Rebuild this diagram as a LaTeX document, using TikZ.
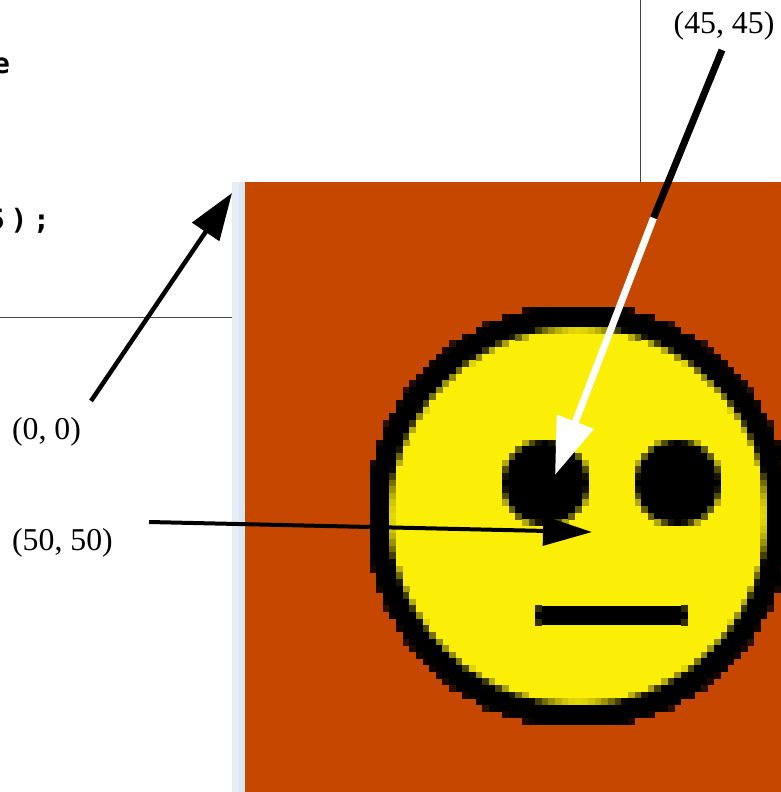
\documentclass[tikz,border=0pt]{standalone}
\usepackage{fontspec}
\setmainfont{Liberation Serif}
\newfontfamily\codefont[LetterSpace=20]{DejaVu Sans Mono Bold}
\usetikzlibrary{arrows.meta,calc}
\definecolor{rust}{RGB}{197,71,0}
\definecolor{smiley}{RGB}{251,239,8}
\definecolor{stripa}{RGB}{232,236,245}
\definecolor{stripb}{RGB}{220,231,244}
\definecolor{ruleg}{RGB}{70,70,70}
\tikzset{
  x=1pt,y=-1pt,
  lab/.style={font=\fontsize{31.8}{36}\selectfont,inner sep=0pt,text=black},
  code/.style={font=\codefont\fontsize{28}{32}\selectfont,inner sep=0pt,anchor=base west},
  ruleline/.style={line width=1pt,draw=ruleg}
}
% pixel-grid helpers
\def\pxs{6.625}
\def\pxo{243.9}
\def\pyo{181.6}
\newcommand{\pcell}[3]{\fill[#3] ({\pxo+(#1)*\pxs-0.2},{\pyo+(#2)*\pxs-0.2}) rectangle ({\pxo+(#1+1)*\pxs+0.2},{\pyo+(#2+1)*\pxs+0.2});}
\begin{document}
\begin{tikzpicture}
\useasboundingbox (0,0) rectangle (781,792);
\fill[white] (0,0) rectangle (781,792);
% code fragments and rules behind the picture
\node[code] (codee) at (-7,74) {e};
\node[code] (codef) at (-12,229) {5);};
\draw[ruleline] (0,317.5) -- (232,317.5);
\draw[ruleline] (640.7,0) -- (640.7,182);
% side strip
\fill[stripa] (232,182) rectangle (239,792);
\fill[stripb] (239,182) rectangle (245,792);
% image
\begin{scope}
\clip (245,182) rectangle (781,792);
\fill[rust] (245,182) rectangle (781,792);
\fill[smiley] ({\pxo+50.5*\pxs},{\pyo+50.5*\pxs}) circle ({28.3*\pxs});
\foreach \i in {19,...,81}{
  \foreach \j in {19,...,81}{
    \pgfmathsetmacro\dd{veclen(\i-50,\j-50)}
    \ifdim\dd pt<27.6pt\else
      \ifdim\dd pt>32.2pt\else
        \ifdim\dd pt<28.9pt
          \pgfmathsetmacro\tt{max(0,min(100,(28.9-\dd)*100))}
          \pcell{\i}{\j}{smiley!\tt!black}
        \else
          \ifdim\dd pt<31.7pt
            \pcell{\i}{\j}{black}
          \else
            \pgfmathsetmacro\tt{min(100,(\dd-31.7)*45)}
            \pcell{\i}{\j}{rust!\tt!black}
          \fi
        \fi
      \fi
    \fi
  }
}
% eyes
\foreach \cx in {45,65}{
  \foreach \i in {-7,...,7}{
    \foreach \j in {-7,...,7}{
      \pgfmathsetmacro\dd{veclen(\i,\j)}
      \ifdim\dd pt<7.0pt
        \pgfmathsetmacro\tt{max(0,min(100,(\dd-6)*100))}
        \pcell{\cx+\i}{45+\j}{smiley!\tt!black}
      \fi
    }
  }
}
% mouth
\fill[black] ({\pxo+44*\pxs},{\pyo+64*\pxs}) rectangle ({\pxo+67*\pxs},{\pyo+67*\pxs});
\foreach \i in {44,66}{\foreach \j in {64,66}{\pcell{\i}{\j}{smiley!20!black}}}
\end{scope}
% labels
\node[lab] (lab0) at (46.5,432) {(0, 0)};
\node[lab] (lab50) at (62.5,543) {(50, 50)};
\node[lab] (lab45) at (724,26) {(45, 45)};
% connector ends
\coordinate (s0) at ($(lab0.center)+(44.5,-31)$);
\coordinate (t0) at (232,193);
\coordinate (s50) at ($(lab50.center)+(86.5,-21)$);
\coordinate (t50) at (592,532);
\coordinate (s45) at ($(lab45.center)+(-2,24)$);
\coordinate (m45) at (653.5,218);
\coordinate (t45) at (555,475);
% connectors
\draw[line width=4.5pt,-{Triangle[length=47pt,width=32pt]}] (s0) -- (t0);
\draw[line width=4pt,-{Triangle[length=49pt,width=29pt]}] (s50) -- (t50);
\draw[line width=7pt] (s45) -- (m45);
\draw[line width=7pt,white,-{Triangle[length=57pt,width=38pt]}] (m45) -- (t45);
\end{tikzpicture}
\end{document}
